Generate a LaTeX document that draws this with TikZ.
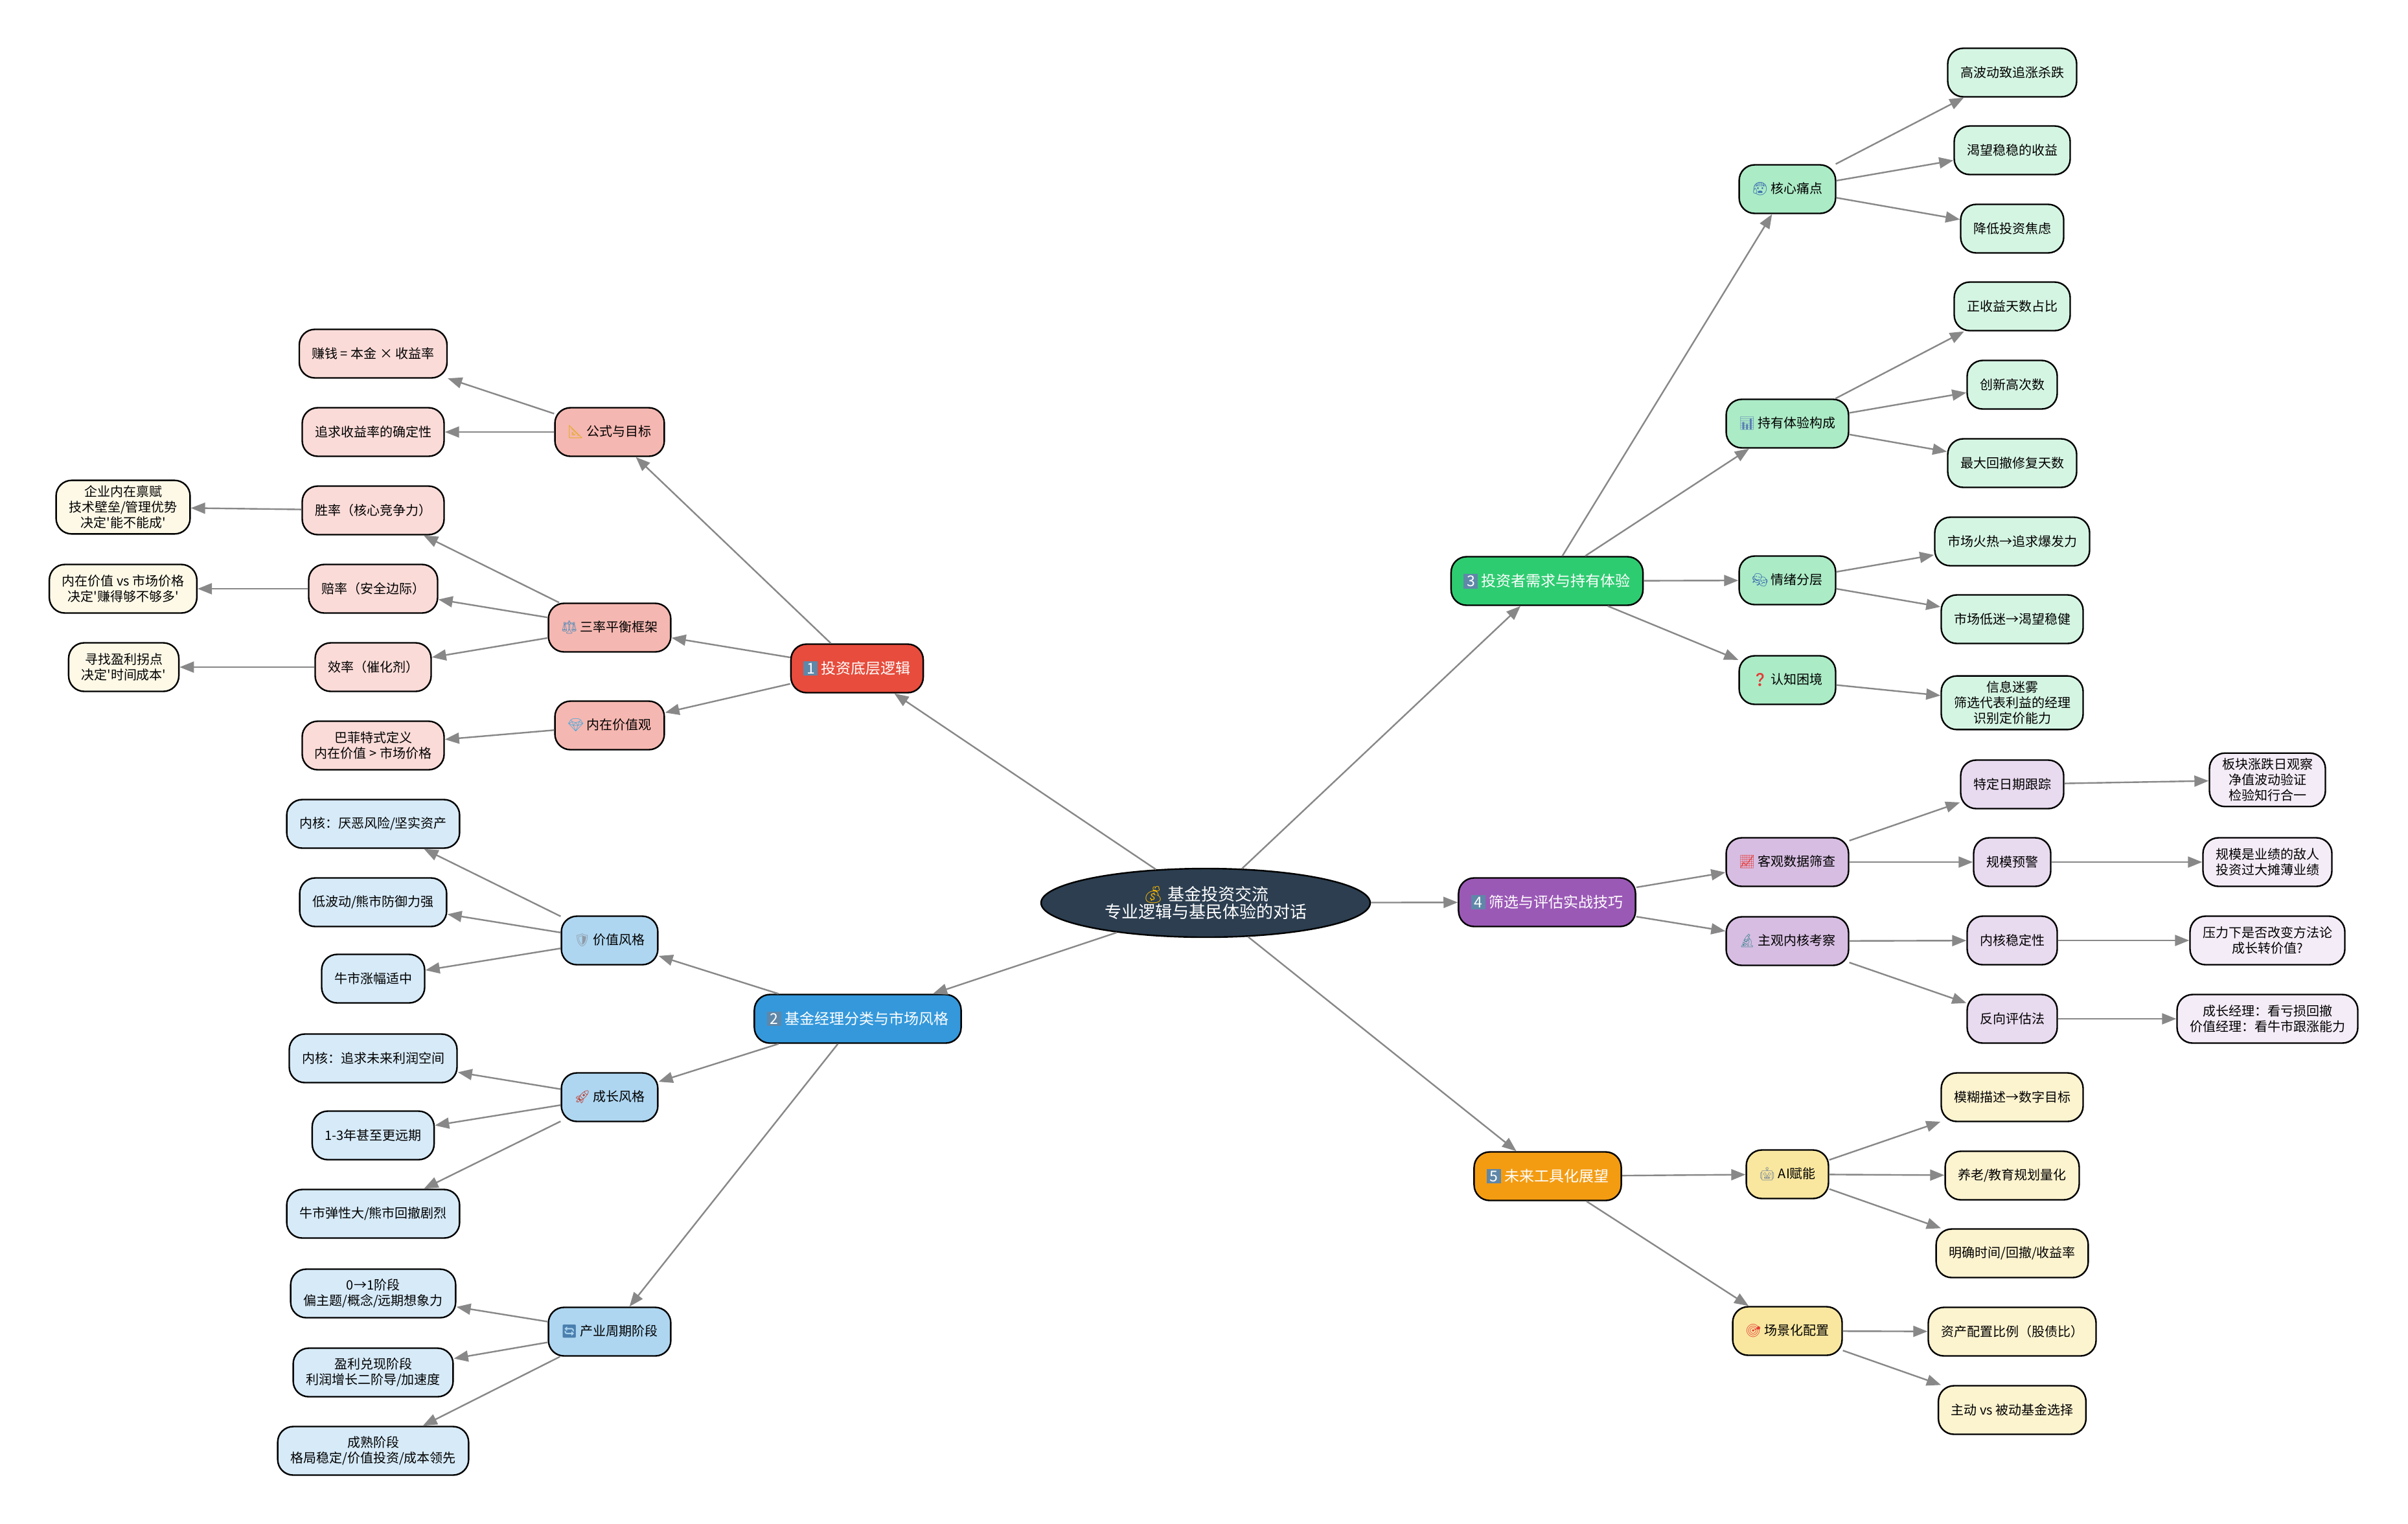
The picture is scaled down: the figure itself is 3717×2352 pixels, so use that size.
\documentclass[tikz,border=0pt]{standalone}
\usepackage{fontspec}
\setmainfont{Noto Sans CJK SC}
\newfontfamily\emojifont{Noto Emoji}
\usetikzlibrary{arrows.meta,shapes.geometric}
\definecolor{rootc}{HTML}{2C3E50}
\definecolor{edgec}{HTML}{888888}
\definecolor{r1}{HTML}{E74C3C}\definecolor{r2}{HTML}{F5B7B1}\definecolor{r3}{HTML}{FADBD8}\definecolor{r4}{HTML}{FEF9E7}
\definecolor{u1}{HTML}{3498DB}\definecolor{u2}{HTML}{AED6F1}\definecolor{u3}{HTML}{D6EAF8}
\definecolor{g1}{HTML}{2ECC71}\definecolor{g2}{HTML}{ABEBC6}\definecolor{g3}{HTML}{D5F5E3}
\definecolor{p1}{HTML}{9B59B6}\definecolor{p2}{HTML}{D7BDE2}\definecolor{p3}{HTML}{E8DAEF}\definecolor{p4}{HTML}{F4ECF7}
\definecolor{o1}{HTML}{F39C12}\definecolor{o2}{HTML}{F9E79F}\definecolor{o3}{HTML}{FCF3CF}
\newcommand\fLeaf{\fontsize{10}{12}\selectfont}
\newcommand\fBranch{\fontsize{11.5}{14}\selectfont}
\newcommand\fRoot{\fontsize{13}{13.6}\selectfont}
\newcommand\sq{\XeTeXglyph\XeTeXcharglyph"0027\relax}
\newcommand\emo[2]{{\emojifont\color[HTML]{#1}#2}}
\newcommand\kcap[1]{\begingroup\setlength{\fboxsep}{1.5pt}\colorbox[HTML]{5F87A8}{\makebox[8pt]{\color{white}#1}}\endgroup}
\tikzset{
  base/.style={draw=black, line width=1.2pt, rounded corners=12pt, minimum height=37.5pt,
    inner xsep=9.75pt, inner ysep=4pt, align=center, font=\fLeaf, text=black},
  br/.style={base, font=\fBranch, text=white},
  B1/.style={br, fill=r1}, B2/.style={br, fill=u1}, B3/.style={br, fill=g1},
  B4/.style={br, fill=p1}, B5/.style={br, fill=o1},
  R2/.style={base, fill=r2}, R3/.style={base, fill=r3}, R4/.style={base, fill=r4},
  U2/.style={base, fill=u2}, U3/.style={base, fill=u3},
  G2/.style={base, fill=g2}, G3/.style={base, fill=g3},
  P2/.style={base, fill=p2}, P3/.style={base, fill=p3}, P4/.style={base, fill=p4},
  O2/.style={base, fill=o2}, O3/.style={base, fill=o3},
  rootnode/.style={ellipse, draw=black, line width=1.2pt, fill=rootc, text=white,
    minimum width=254pt, minimum height=53pt, inner sep=0pt, align=center, font=\fRoot},
  edge/.style={draw=edgec, line width=1.2pt, -{Triangle[length=11pt,width=8.5pt]}}
}
\begin{document}
\begin{tikzpicture}[x=0.5pt,y=-0.5pt]
\useasboundingbox (0,0) rectangle (3717,2352);
\fill[white] (0,0) rectangle (3717,2352);

% root
\node[rootnode] (root) at (1861,1394) {\emo{F4B400}{💰} 基金投资交流\\专业逻辑与基民体验的对话};

% branch 1
\node[B1] (b1) at (1323,1032) {\kcap{1} 投资底层逻辑};
\node[R2] (b1a) at (941,667) {\emo{E0A800}{📐} 公式与目标};
\node[R3] (b1a1) at (576,546) {赚钱 = 本金 × 收益率};
\node[R3] (b1a2) at (576,667) {追求收益率的确定性};
\node[R2] (b1b) at (941,969) {\emo{5B8DB8}{⚖} 三率平衡框架};
\node[R3] (b1b1) at (576,788) {胜率（核心竞争力）};
\node[R3] (b1b2) at (576,909) {赔率（安全边际）};
\node[R3] (b1b3) at (576,1030) {效率（催化剂）};
\node[R4] (b1b1x) at (190,783) {企业内在禀赋\\技术壁垒/管理优势\\决定\sq 能不能成\sq};
\node[R4] (b1b2x) at (190,909) {内在价值 vs 市场价格\\决定\sq 赚得够不够多\sq};
\node[R4] (b1b3x) at (191,1030) {寻找盈利拐点\\决定\sq 时间成本\sq};
\node[R2] (b1c) at (941,1120) {\emo{3FA9E0}{💎} 内在价值观};
\node[R3] (b1c1) at (576,1151) {巴菲特式定义\\内在价值 > 市场价格};

% branch 2
\node[B2] (b2) at (1324,1573) {\kcap{2} 基金经理分类与市场风格};
\node[U2] (b2a) at (941,1452) {\emo{8D9AA6}{🛡} 价值风格};
\node[U3] (b2a1) at (576,1272) {内核：厌恶风险/坚实资产};
\node[U3] (b2a2) at (576,1393) {低波动/熊市防御力强};
\node[U3] (b2a3) at (576,1511) {牛市涨幅适中};
\node[U2] (b2b) at (941,1694) {\emo{C0392B}{🚀} 成长风格};
\node[U3] (b2b1) at (576,1634) {内核：追求未来利润空间};
\node[U3] (b2b2) at (576,1753) {1-3年甚至更远期};
\node[U3] (b2b3) at (576,1874) {牛市弹性大/熊市回撤剧烈};
\node[U2] (b2c) at (941,2056) {\emo{4A7FAE}{🔄} 产业周期阶段};
\node[U3] (b2c1) at (576,1997) {0→1阶段\\偏主题/概念/远期想象力};
\node[U3] (b2c2) at (576,2119) {盈利兑现阶段\\利润增长二阶导/加速度};
\node[U3] (b2c3) at (576,2240) {成熟阶段\\格局稳定/价值投资/成本领先};

% branch 3
\node[B3] (b3) at (2388,897) {\kcap{3} 投资者需求与持有体验};
\node[G2] (b3a) at (2759,292) {\emo{3D6FB0}{😰} 核心痛点};
\node[G3] (b3a1) at (3106,112) {高波动致追涨杀跌};
\node[G3] (b3a2) at (3106,232) {渴望稳稳的收益};
\node[G3] (b3a3) at (3106,353) {降低投资焦虑};
\node[G2] (b3b) at (2759,654) {\emo{5A7FB5}{📊} 持有体验构成};
\node[G3] (b3b1) at (3106,473) {正收益天数占比};
\node[G3] (b3b2) at (3106,594) {创新高次数};
\node[G3] (b3b3) at (3106,715) {最大回撤修复天数};
\node[G2] (b3c) at (2759,896) {\emo{3D6FB0}{🎭} 情绪分层};
\node[G3] (b3c1) at (3106,836) {市场火热→追求爆发力};
\node[G3] (b3c2) at (3106,956) {市场低迷→渴望稳健};
\node[G2] (b3d) at (2759,1050) {\emo{E53935}{❓} 认知困境};
\node[G3] (b3d1) at (3106,1085) {信息迷雾\\筛选代表利益的经理\\识别定价能力};

% branch 4
\node[B4] (b4) at (2388,1393) {\kcap{4} 筛选与评估实战技巧};
\node[P2] (b4a) at (2759,1331) {\emo{E53935}{📈} 客观数据筛查};
\node[P3] (b4a1) at (3106,1211) {特定日期跟踪};
\node[P4] (b4a1x) at (3500,1204) {板块涨跌日观察\\净值波动验证\\检验知行合一};
\node[P3] (b4a2) at (3106,1331) {规模预警};
\node[P4] (b4a2x) at (3500,1331) {规模是业绩的敌人\\投资过大摊薄业绩};
\node[P2] (b4b) at (2759,1453) {\emo{4F8A9A}{🔬} 主观内核考察};
\node[P3] (b4b1) at (3106,1452) {内核稳定性};
\node[P4] (b4b1x) at (3500,1452) {压力下是否改变方法论\\成长转价值?};
\node[P3] (b4b2) at (3106,1573) {反向评估法};
\node[P4] (b4b2x) at (3500,1573) {成长经理：看亏损回撤\\价值经理：看牛市跟涨能力};

% branch 5
\node[B5] (b5) at (2389,1816) {\kcap{5} 未来工具化展望};
\node[O2] (b5a) at (2759,1813) {\emo{7F8C99}{🤖} AI赋能};
\node[O3] (b5a1) at (3106,1694) {模糊描述→数字目标};
\node[O3] (b5a2) at (3106,1815) {养老/教育规划量化};
\node[O3] (b5a3) at (3106,1935) {明确时间/回撤/收益率};
\node[O2] (b5b) at (2759,2055) {\emo{E53935}{🎯} 场景化配置};
\node[O3] (b5b1) at (3106,2056) {资产配置比例（股债比）};
\node[O3] (b5b2) at (3106,2177) {主动 vs 被动基金选择};

% edges
\foreach \a/\b in {root/b1,root/b2,root/b3,root/b4,root/b5,
  b1/b1a,b1/b1b,b1/b1c,b1a/b1a1,b1a/b1a2,b1b/b1b1,b1b/b1b2,b1b/b1b3,
  b1b1/b1b1x,b1b2/b1b2x,b1b3/b1b3x,b1c/b1c1,
  b2/b2a,b2/b2b,b2/b2c,b2a/b2a1,b2a/b2a2,b2a/b2a3,b2b/b2b1,b2b/b2b2,b2b/b2b3,
  b2c/b2c1,b2c/b2c2,b2c/b2c3,
  b3/b3a,b3/b3b,b3/b3c,b3/b3d,b3a/b3a1,b3a/b3a2,b3a/b3a3,b3b/b3b1,b3b/b3b2,b3b/b3b3,
  b3c/b3c1,b3c/b3c2,b3d/b3d1,
  b4/b4a,b4/b4b,b4a/b4a1,b4a/b4a2,b4a1/b4a1x,b4a2/b4a2x,b4b/b4b1,b4b/b4b2,b4b1/b4b1x,b4b2/b4b2x,
  b5/b5a,b5/b5b,b5a/b5a1,b5a/b5a2,b5a/b5a3,b5b/b5b1,b5b/b5b2}
  \draw[edge] (\a) -- (\b);
\end{tikzpicture}
\end{document}
